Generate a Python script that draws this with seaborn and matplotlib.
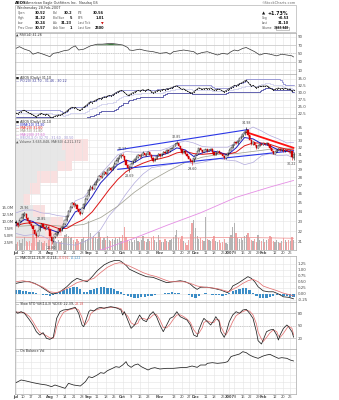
import numpy as np
import matplotlib
matplotlib.use("Agg")
import matplotlib.pyplot as plt
from matplotlib.patches import Rectangle
from matplotlib.ticker import NullLocator
import seaborn as sns

# ---------------------------------------------------------------- data
# daily bars, trading days 3-Jul-2006 .. 28-Feb-2007 (index 0..164)
OPEN = [22.95, 22.80, 22.65, 23.05, 23.40, 23.70, 23.80, 23.35, 23.00, 22.75,
        22.50, 22.15, 21.80, 21.60, 22.10, 22.50, 22.70, 22.45, 22.25, 22.40,
        22.20, 21.50, 21.10, 21.45, 21.70, 21.90, 22.20, 22.05, 22.45, 22.70,
        23.10, 23.60, 24.10, 24.50, 24.95, 24.70, 24.80, 24.30, 23.95, 23.85,
        24.40, 24.90, 25.40, 25.85, 26.50, 26.85, 26.60, 27.10, 27.45, 27.70,
        28.10, 28.00, 28.35, 28.60, 28.45, 28.90, 29.15, 28.95, 29.35, 29.70,
        30.10, 30.45, 30.70, 30.90, 30.75, 30.20, 29.60, 29.15, 29.30, 29.75,
        30.10, 30.35, 30.65, 30.90, 30.70, 30.95, 31.20, 30.85, 31.05, 31.30,
        30.95, 30.50, 30.15, 30.40, 30.75, 31.00, 30.80, 31.10, 31.35, 31.20,
        31.55, 31.40, 31.75, 31.90, 32.20, 32.45, 32.60, 32.10, 31.70, 31.25,
        31.50, 31.10, 30.75, 30.40, 30.10, 29.95, 30.45, 30.95, 31.40, 31.85,
        31.60, 31.35, 31.55, 31.70, 31.45, 31.60, 31.80, 31.30, 30.95, 31.20,
        31.40, 31.25, 31.10, 30.70, 30.45, 30.85, 31.20, 31.60, 31.95, 32.30,
        32.70, 32.55, 32.95, 33.30, 33.55, 33.90, 34.30, 34.60, 33.80, 33.10,
        32.40, 32.75, 32.30, 31.90, 32.20, 32.50, 32.35, 32.55, 32.40, 32.60,
        32.30, 31.85, 31.40, 31.10, 31.35, 31.60, 31.80, 31.55, 31.70, 31.40,
        31.65, 31.50, 31.30, 31.45, 30.52]
HIGH = [23.10, 22.90, 23.20, 23.45, 23.85, 23.96, 23.90, 23.50, 23.15, 22.85,
        22.60, 22.25, 21.90, 22.15, 22.60, 22.85, 22.75, 22.55, 22.60, 22.50,
        22.25, 21.60, 21.50, 21.85, 22.00, 22.30, 22.35, 22.55, 22.80, 23.20,
        23.70, 24.20, 24.65, 25.10, 25.05, 25.00, 24.90, 24.40, 24.05, 24.50,
        25.00, 25.50, 25.90, 26.70, 27.00, 26.95, 27.25, 27.60, 27.90, 28.30,
        28.25, 28.50, 28.80, 28.70, 29.10, 29.35, 29.25, 29.60, 29.90, 30.30,
        30.60, 30.85, 31.05, 31.17, 30.80, 30.25, 29.70, 29.40, 29.85, 30.20,
        30.45, 30.80, 31.05, 31.00, 31.10, 31.40, 31.25, 31.20, 31.45, 31.35,
        31.00, 30.60, 30.55, 30.85, 31.15, 31.05, 31.25, 31.50, 31.40, 31.70,
        31.60, 31.90, 32.05, 32.35, 32.60, 32.85, 32.65, 32.15, 31.80, 31.65,
        31.55, 31.15, 30.80, 30.50, 30.25, 30.55, 31.05, 31.50, 31.95, 31.90,
        31.65, 31.65, 31.80, 31.75, 31.70, 31.90, 31.85, 31.35, 31.30, 31.50,
        31.45, 31.30, 31.15, 30.75, 30.95, 31.30, 31.70, 32.05, 32.40, 32.80,
        32.75, 33.05, 33.40, 33.65, 34.00, 34.45, 34.98, 34.65, 33.85, 33.15,
        32.90, 32.80, 32.35, 32.30, 32.60, 32.55, 32.65, 32.60, 32.70, 32.65,
        32.35, 31.90, 31.45, 31.45, 31.70, 31.90, 31.85, 31.80, 31.75, 31.75,
        31.70, 31.55, 31.55, 31.50, 31.32]
LOW = [22.70, 22.45, 22.60, 22.95, 23.30, 23.55, 23.30, 22.95, 22.60, 22.40,
       22.10, 21.70, 21.40, 21.55, 22.00, 22.40, 22.30, 22.15, 22.20, 22.15,
       21.45, 20.80, 21.00, 21.35, 21.55, 21.80, 21.95, 22.00, 22.35, 22.60,
       23.05, 23.50, 24.00, 24.40, 24.55, 24.60, 24.20, 23.80, 23.65, 23.80,
       24.35, 24.85, 25.30, 25.80, 26.40, 26.45, 26.55, 27.00, 27.35, 27.65,
       27.85, 27.95, 28.30, 28.30, 28.40, 28.85, 28.80, 28.90, 29.30, 29.65,
       30.00, 30.35, 30.55, 30.60, 30.10, 29.50, 29.00, 28.69, 29.20, 29.70,
       30.00, 30.25, 30.55, 30.55, 30.65, 30.90, 30.75, 30.80, 31.00, 30.85,
       30.40, 29.95, 30.10, 30.35, 30.70, 30.65, 30.75, 31.05, 31.05, 31.15,
       31.25, 31.35, 31.70, 31.85, 32.15, 32.40, 32.00, 31.60, 31.10, 31.20,
       31.00, 30.65, 30.30, 30.00, 29.60, 29.90, 30.40, 30.90, 31.35, 31.50,
       31.25, 31.30, 31.50, 31.35, 31.40, 31.55, 31.20, 30.85, 30.90, 31.15,
       31.15, 31.00, 30.60, 30.30, 30.40, 30.80, 31.15, 31.55, 31.90, 32.25,
       32.40, 32.50, 32.90, 33.25, 33.50, 33.85, 34.20, 33.70, 33.00, 32.30,
       32.35, 32.20, 31.80, 31.85, 32.15, 32.25, 32.30, 32.30, 32.35, 32.20,
       31.75, 31.30, 31.00, 31.05, 31.30, 31.55, 31.45, 31.50, 31.30, 31.35,
       31.40, 31.20, 31.25, 30.22, 30.24]
CLOSE = [22.85, 22.60, 23.10, 23.35, 23.75, 23.85, 23.40, 23.05, 22.70, 22.55,
         22.20, 21.80, 21.55, 22.05, 22.50, 22.70, 22.40, 22.25, 22.45, 22.30,
         21.55, 21.05, 21.40, 21.75, 21.90, 22.20, 22.05, 22.45, 22.70, 23.10,
         23.60, 24.10, 24.55, 24.95, 24.70, 24.85, 24.30, 23.95, 23.80, 24.40,
         24.90, 25.40, 25.80, 26.50, 26.85, 26.60, 27.10, 27.45, 27.70, 28.10,
         28.00, 28.35, 28.60, 28.45, 28.90, 29.15, 28.95, 29.35, 29.70, 30.10,
         30.45, 30.70, 30.90, 30.75, 30.20, 29.60, 29.15, 29.30, 29.75, 30.10,
         30.35, 30.65, 30.90, 30.70, 30.95, 31.20, 30.85, 31.05, 31.30, 30.95,
         30.50, 30.15, 30.40, 30.75, 31.00, 30.80, 31.10, 31.35, 31.20, 31.55,
         31.40, 31.75, 31.90, 32.20, 32.45, 32.60, 32.10, 31.70, 31.25, 31.50,
         31.10, 30.75, 30.40, 30.10, 29.95, 30.45, 30.95, 31.40, 31.85, 31.60,
         31.35, 31.55, 31.70, 31.45, 31.60, 31.80, 31.30, 30.95, 31.20, 31.40,
         31.25, 31.10, 30.70, 30.45, 30.85, 31.20, 31.60, 31.95, 32.30, 32.70,
         32.55, 32.95, 33.30, 33.55, 33.90, 34.30, 34.60, 33.80, 33.10, 32.40,
         32.75, 32.30, 31.90, 32.20, 32.50, 32.35, 32.55, 32.40, 32.60, 32.30,
         31.85, 31.40, 31.10, 31.35, 31.60, 31.80, 31.55, 31.70, 31.40, 31.65,
         31.50, 31.30, 31.45, 30.57, 31.10]
VOLUME = [2.1, 2.8, 3.4, 2.6, 3.9, 4.6, 3.1, 2.7, 3.3, 2.5,
          7.0, 4.2, 3.8, 2.9, 3.6, 3.0, 2.4, 3.2, 2.6, 3.5,
          8.9, 6.2, 4.1, 3.3, 2.9, 3.6, 2.8, 3.1, 4.4, 5.2,
          5.6, 4.9, 4.2, 4.7, 3.5, 2.9, 3.8, 3.2, 2.7, 3.9,
          4.5, 3.6, 4.1,
          10.2, 6.1, 4.3, 5.0, 4.6, 3.9, 6.4, 4.8, 3.7, 4.2,
          3.4, 4.9, 3.6, 3.1, 4.0, 3.5, 4.4, 3.8, 4.7, 3.3,
          5.2, 8.3, 4.6, 3.7, 3.2, 3.9, 2.8, 3.4, 4.3, 3.1,
          2.7, 3.6, 4.9, 3.3, 2.9, 3.8, 3.1, 4.2, 5.0, 3.4,
          2.8, 5.4,
          3.6, 3.0, 2.7, 3.9, 3.3, 2.8, 3.5, 4.1, 4.6, 5.3,
          7.0, 4.4, 3.8, 4.9, 3.2, 2.6, 1.8, 3.7, 5.8, 9.6, 10.7,
          7.8, 4.9, 4.1, 4.3, 3.6, 3.2, 11.9, 3.8, 3.4, 3.1,
          4.0, 5.1, 3.3, 2.8, 3.5, 2.6, 3.0, 3.9, 2.4, 2.2,
          4.7, 5.5, 8.2, 9.6, 6.1, 4.2, 3.8, 4.4, 3.6, 4.9,
          5.2, 6.0, 4.3, 3.7, 3.2, 3.9, 2.9, 5.4, 3.6, 3.1,
          3.8, 2.9, 3.4, 4.1, 5.0, 4.6, 3.2, 2.8, 3.5, 3.0,
          2.6, 3.1, 4.3, 3.4, 2.9, 3.7, 3.2, 4.7, 3.67]

# date axis
TICK_IDX = [0, 4, 9, 14, 20, 24, 29, 34, 39, 43, 48, 53, 58, 63, 68, 73, 78,
            85, 93, 98, 102, 106, 112, 117, 122, 126, 129, 134, 138, 143,
            146, 153, 158, 162]
TICK_LBL = ["Jul", "10", "17", "24", "Aug", "7", "14", "21", "28", "Sep", "11",
            "18", "25", "Oct", "9", "16", "23", "Nov", "13", "20", "27", "Dec",
            "11", "18", "26", "2007", "8", "16", "22", "29", "Feb", "12", "20",
            "26"]
MONTHS = {"Jul", "Aug", "Sep", "Oct", "Nov", "Dec", "2007", "Feb"}

# price overlays
MA_IDX = [0, 5, 10, 15, 20, 25, 30, 35, 40, 45, 50, 55, 60, 65, 70, 75, 80, 85,
          90, 95, 100, 105, 110, 115, 120, 125, 130, 135, 140, 145, 150, 155,
          160, 164]
EMA10 = [22.6, 23.2, 23.0, 22.4, 22.2, 21.9, 22.6, 24.0, 24.4, 25.7, 27.3, 28.4,
         29.6, 30.2, 29.9, 30.6, 30.8, 30.8, 31.2, 31.9, 31.6, 30.7, 31.2, 31.5,
         31.3, 30.9, 31.9, 33.4, 33.2, 32.5, 32.2, 31.6, 31.5, 31.3]
MA20 = [22.6, 22.8, 22.9, 22.8, 22.6, 22.3, 22.3, 22.8, 23.2, 24.0, 25.2, 26.5,
        27.7, 28.7, 29.3, 29.8, 30.2, 30.4, 30.7, 31.2, 31.4, 31.1, 31.0, 31.1,
        31.2, 31.0, 31.3, 32.2, 32.6, 32.6, 32.4, 32.0, 31.7, 31.6]
BB_UP = [23.9, 24.2, 24.2, 23.9, 23.8, 23.6, 23.5, 25.2, 25.6, 26.8, 28.4, 29.6,
         30.9, 31.4, 31.3, 31.3, 31.5, 31.5, 31.9, 32.6, 32.9, 32.6, 32.1, 32.0,
         32.0, 32.0, 32.6, 34.3, 35.0, 34.4, 33.7, 33.2, 32.6, 32.7]
BB_DN = [21.8, 21.6, 21.7, 21.6, 21.2, 20.9, 20.8, 20.7, 21.0, 21.4, 22.2, 23.6,
         24.6, 26.0, 27.3, 28.4, 29.2, 29.4, 29.6, 29.8, 30.0, 29.7, 29.9, 30.2,
         30.4, 30.2, 30.1, 29.6, 29.9, 30.8, 31.1, 30.8, 30.9, 30.5]
MA50_IDX = [0, 10, 20, 30, 40, 50, 60, 70, 80, 90, 100, 110, 120, 130, 140, 150,
            160, 164]
MA50 = [22.5, 22.6, 22.6, 22.5, 22.7, 23.4, 24.6, 26.2, 27.6, 28.8, 29.9, 30.6,
        31.0, 31.1, 31.4, 31.7, 31.8, 31.8]
MA200_IDX = [0, 30, 51, 69, 89, 109, 130, 150, 164]
MA200 = [19.0, 19.7, 20.3, 21.3, 22.6, 23.9, 25.6, 26.8, 27.6]
VOLMA_IDX = [0, 20, 45, 70, 100, 130, 164]
VOLMA = [4.6, 4.4, 4.5, 4.4, 4.3, 4.5, 4.2]

# trend lines: (start index, start price, end index, end price)
TREND_UP = (60, 31.6, 137, 34.6)
TREND_LOW = (60, 29.0, 164, 31.5)
TREND_RED = (136, 34.2, 164, 31.9)

# labelled highs / lows: (index, price, above?)
MARKS = [(5, 23.96, True), (15, 22.85, True), (21, 20.80, False),
         (63, 31.17, True), (67, 28.69, False), (95, 32.85, True),
         (104, 29.60, False), (136, 34.98, True), (163, 30.22, False)]

# volume by price zones (price edges, up / down volume in millions)
VBP_LO = [20.6, 21.6, 22.5, 23.5, 24.7, 26.0, 27.3, 28.8, 30.1, 31.6]
VBP_HI = [21.6, 22.5, 23.5, 24.7, 26.0, 27.3, 28.8, 30.1, 31.6, 33.2]
VBP_UP = [36, 60, 70, 36, 16, 30, 44, 84, 100, 94]
VBP_DN = [34, 34, 26, 24, 14, 20, 42, 30, 46, 52]

# price channel PC(20) change points
PC_HI_IDX = [0, 25, 26, 27, 28, 29, 30, 31, 32, 33, 41, 42, 43, 44, 46, 47, 48,
             49, 51, 52, 54, 55, 57, 58, 59, 60, 61, 62, 63, 83, 87, 89, 91, 92,
             93, 94, 95, 115, 116, 117, 127, 128, 129, 131, 132, 133, 134, 135,
             136, 156, 157, 158, 159, 160, 161]
PC_HI = [23.96, 23.90, 23.50, 23.15, 22.85, 23.20, 23.70, 24.20, 24.65, 25.10,
         25.50, 25.90, 26.70, 27.00, 27.25, 27.60, 27.90, 28.30, 28.50, 28.80,
         29.10, 29.35, 29.60, 29.90, 30.30, 30.60, 30.85, 31.05, 31.17, 31.45,
         31.50, 31.70, 31.90, 32.05, 32.35, 32.60, 32.85, 32.65, 32.15, 31.95,
         32.05, 32.40, 32.80, 33.05, 33.40, 33.65, 34.00, 34.45, 34.98, 34.65,
         33.85, 33.15, 32.90, 32.80, 32.70]
PC_LO_IDX = [0, 21, 41, 42, 43, 44, 45, 46, 47, 48, 49, 50, 51, 58, 59, 60, 61,
             62, 63, 64, 65, 66, 67, 68, 69, 70, 71, 73, 74, 87, 88, 89, 101,
             102, 103, 104, 124, 125, 143, 144, 145, 146, 147, 150, 151, 152, 163]
PC_LO = [21.40, 20.80, 21.00, 21.35, 21.55, 21.80, 21.95, 22.00, 22.35, 22.60,
         23.05, 23.50, 23.65, 23.80, 24.35, 24.85, 25.30, 25.80, 26.40, 26.45,
         26.55, 27.00, 27.35, 27.65, 27.85, 27.95, 28.30, 28.40, 28.69, 29.20,
         29.70, 29.95, 30.10, 30.30, 30.00, 29.60, 29.90, 30.30, 30.40, 30.80,
         31.15, 31.55, 31.80, 31.75, 31.30, 31.00, 30.22]

# RSI(14)
RSI_IDX = [0, 2, 5, 8, 10, 13, 16, 20, 22, 25, 28, 31, 33, 35, 37, 40, 44, 48,
           51, 56, 60, 63, 66, 67, 69, 73, 77, 81, 85, 89, 91, 93, 96, 99, 102,
           105, 107, 110, 113, 116, 119, 122, 125, 127, 129, 131, 134, 136, 138,
           141, 144, 147, 150, 154, 157, 160, 163, 164]
RSI = [62, 66, 60, 56, 48, 52, 48, 42, 50, 52, 56, 58, 64, 68, 58, 60, 68, 72,
       72, 74, 72, 70, 64, 58, 57, 60, 56, 54, 50, 52, 48, 54, 56, 58, 56, 54,
       48, 52, 54, 50, 46, 50, 48, 54, 58, 56, 62, 64, 60, 54, 46, 50, 48, 44,
       48, 46, 44, 41.26]

# MACD(12,26,9)
MACD_IDX = [0, 2, 5, 8, 11, 14, 17, 20, 22, 26, 30, 33, 36, 40, 42, 45, 48, 52,
            55, 58, 61, 62, 65, 67, 70, 73, 77, 81, 85, 89, 93, 97, 100, 103,
            105, 107, 109, 113, 117, 121, 125, 127, 128, 131, 134, 137, 139,
            141, 143, 146, 149, 152, 155, 158, 161, 164]
MACD = [0.43, 0.46, 0.50, 0.50, 0.43, 0.32, 0.18, 0.04, -0.01, 0.08, 0.29, 0.50,
        0.64, 0.54, 0.50, 0.71, 0.96, 1.20, 1.31, 1.38, 1.38, 1.35, 1.18, 1.02,
        0.92, 0.82, 0.71, 0.68, 0.57, 0.46, 0.50, 0.54, 0.50, 0.40, 0.27, 0.18,
        0.27, 0.27, 0.22, 0.15, 0.04, 0.18, 0.32, 0.43, 0.57, 0.71, 0.64, 0.50,
        0.29, 0.12, 0.08, 0.08, -0.01, -0.13, -0.15, -0.214]
SIG_IDX = [0, 4, 8, 12, 16, 20, 24, 28, 32, 36, 40, 43, 46, 50, 54, 58, 61, 63,
           67, 71, 75, 79, 83, 87, 91, 95, 99, 103, 107, 111, 115, 119, 123,
           126, 128, 131, 134, 137, 140, 143, 146, 150, 154, 158, 162, 164]
SIG = [0.50, 0.54, 0.49, 0.39, 0.27, 0.08, 0.04, 0.15, 0.29, 0.46, 0.54, 0.57,
       0.64, 0.88, 1.10, 1.24, 1.29, 1.27, 1.15, 1.02, 0.88, 0.78, 0.71, 0.60,
       0.50, 0.50, 0.50, 0.43, 0.32, 0.27, 0.25, 0.21, 0.13, 0.08, 0.18, 0.29,
       0.43, 0.54, 0.60, 0.50, 0.32, 0.22, 0.13, 0.02, -0.05, -0.092]
HIST_IDX = list(range(0, 165, 2))
HIST = [0.14, 0.15, 0.13, 0.10, 0.08, 0.06, 0.03, 0.00, -0.04, -0.07,
        -0.08, -0.05, 0.02, 0.08, 0.14, 0.20, 0.25, 0.28, 0.27, 0.18,
        0.05, 0.06, 0.14, 0.20, 0.24, 0.26, 0.27, 0.25, 0.22, 0.19,
        0.12, 0.06, -0.04, -0.10, -0.14, -0.16, -0.18, -0.15, -0.12, -0.10,
        -0.08, -0.06, -0.03, -0.01, 0.02, 0.04, 0.05, 0.04, 0.03, 0.00,
        -0.03, -0.06, -0.12, -0.16, -0.08, -0.02, 0.01, -0.02, -0.04, -0.06,
        -0.07, -0.08, -0.05, 0.03, 0.10, 0.16, 0.21, 0.24, 0.22, 0.15,
        0.02, -0.10, -0.18, -0.20, -0.16, -0.12, -0.08, -0.04, -0.07, -0.10,
        -0.10, -0.12, -0.122]

# Slow stochastic
STO_IDX = [0, 1, 3, 5, 8, 10, 12, 14, 16, 18, 20, 22, 23, 24, 26, 28, 31, 33,
           35, 37, 39, 40, 41, 43, 44, 46, 48, 50, 52, 54, 56, 58, 60, 62, 63,
           64, 66, 68, 70, 72, 73, 75, 77, 79, 81, 83, 85, 87, 89, 91, 93, 95,
           97, 99, 101, 103, 105, 107, 108, 110, 111, 113, 115, 117, 118, 120,
           121, 123, 124, 126, 128, 130, 132, 134, 136, 138, 140, 142, 143, 145,
           146, 148, 150, 152, 154, 155, 156, 158, 160, 161, 163, 164]
STO_K = [83.8, 79.9, 83.8, 79.9, 63.8, 51.8, 35.8, 27.8, 33.4, 19.8,
         17.4, 22.2, 43.8, 67.8, 83.8, 87.8, 89.4, 91.8, 94.2, 79.9,
         51.8, 47.8, 59.8, 83.8, 87.8, 85.4, 91.8, 94.2, 91.8, 94.2,
         95.8, 94.2, 91.8, 87.8, 75.8, 83.8, 63.8, 43.8, 51.8, 67.8,
         75.8, 63.8, 59.8, 75.8, 83.8, 71.8, 51.8, 35.8, 51.8, 67.8,
         71.8, 83.8, 71.8, 67.8, 63.8, 51.8, 27.8, 23.8, 39.8, 59.8,
         67.8, 59.8, 51.8, 63.8, 71.8, 59.8, 35.8, 22.2, 31.8, 59.8,
         75.8, 83.8, 79.9, 87.8, 89.4, 79.9, 67.8, 35.8, 14.2, 6.2,
         15.8, 35.8, 39.8, 41.4, 27.8, 15.8, 27.8, 43.8, 51.8, 47.8,
         35.8, 22.39]
STO_D = [82, 83, 82, 81, 72, 60, 46, 34, 30, 26,
         21, 20, 30, 48, 68, 82, 88, 90, 92, 88,
         70, 57, 53, 65, 78, 86, 89, 91, 93, 93,
         94, 94, 93, 91, 84, 81, 73, 57, 52, 56,
         66, 68, 65, 68, 76, 77, 64, 46, 45, 54,
         66, 76, 76, 72, 66, 58, 40, 30, 32, 45,
         58, 62, 58, 58, 65, 64, 48, 32, 28, 42,
         60, 74, 80, 84, 87, 85, 76, 55, 35, 18,
         12, 22, 33, 40, 36, 26, 22, 32, 44, 49,
         44, 28.18]

# On Balance Volume (millions)
OBV_IDX = [0, 3, 6, 10, 14, 18, 21, 23, 26, 29, 31, 34, 38, 41, 43, 45, 48, 50,
           52, 54, 57, 59, 61, 63, 65, 66, 68, 70, 72, 74, 76, 78, 80, 82, 85,
           89, 93, 97, 101, 104, 107, 109, 112, 113, 116, 119, 123, 125, 127,
           128, 130, 132, 134, 136, 138, 140, 143, 146, 148, 150, 152, 155,
           157, 160, 162, 164]
OBV = [18.5, 22.5, 21.0, 18.5, 16.5, 15.0, 12.5, 15.0, 12.5, 10.0,
       17.5, 15.0, 13.5, 20.0, 27.5, 26.0, 30.0, 33.5, 32.5, 36.5,
       40.0, 42.5, 41.5, 45.0, 50.0, 45.0, 41.5, 45.0, 46.5, 42.5,
       40.0, 37.5, 40.0, 41.0, 39.0, 40.0, 40.0, 41.0, 41.5, 43.5,
       41.5, 45.0, 45.0, 47.5, 48.5, 47.5, 48.5, 50.0, 57.5, 58.5,
       60.0, 61.5, 65.0, 63.5, 60.0, 57.5, 55.0, 58.5, 60.0, 61.0,
       58.5, 55.0, 56.0, 55.0, 52.5, 51.0]

# quote box
QUOTE_COL1 = [("Open", "30.52"), ("High", "31.32"), ("Low", "30.24"), ("Prev Close", "30.57")]
QUOTE_COL2 = [("Bid", "30.2"), ("Bid Size", "5"), ("Ask", "31.23"), ("Ask Size", "1")]
QUOTE_COL3 = [("P/E", "30.56"), ("EPS", "1.01"), ("Last Tick", "\u25bc"), ("Last Size", "2500")]
QUOTE_COL4 = [("\u25b2", "+1.73%"), ("Chg", "+0.53"), ("Last", "31.10"), ("Volume", "3,665,848")]

# ---------------------------------------------------------------- figure
sns.set_theme(style="white")
plt.rcParams["font.family"] = ["DejaVu Sans"]
plt.rcParams["axes.linewidth"] = 0.5

W, H = 339, 400
fig = plt.figure(figsize=(W / 100, H / 100), dpi=100)


def box(x0, y0, x1, y1):
    return [x0 / W, 1 - y1 / H, (x1 - x0) / W, (y1 - y0) / H]


X0, X1 = 15, 296
XLIM = (-0.6, 165.4)
GRID = "#e4e4e4"
EDGE = "#a8a8a8"
TICKC = "#4a4a4a"
FS_TICK = 2.9
FS_DATE = 2.6
FS_LAB = 2.35
days = np.arange(len(CLOSE))


def frame(ax, right_labels=True):
    ax.set_xlim(*XLIM)
    ax.set_xticks(TICK_IDX)
    ax.tick_params(axis="x", length=0, labelbottom=False)
    ax.yaxis.set_minor_locator(NullLocator())
    ax.yaxis.tick_right()
    ax.tick_params(axis="y", which="both", length=0, labelsize=FS_TICK,
                   colors=TICKC, pad=1.2, labelright=right_labels)
    ax.grid(True, color=GRID, lw=0.4)
    ax.set_axisbelow(True)
    for s in ax.spines.values():
        s.set_color(EDGE)
        s.set_linewidth(0.5)
    ax.set_xlabel("")
    ax.set_ylabel("")


def date_axis(ax):
    ax.set_xticks(TICK_IDX, labels=TICK_LBL)
    ax.tick_params(axis="x", labelbottom=True, labelsize=FS_DATE, pad=0.8,
                   colors=TICKC)
    for t, s in zip(ax.get_xticklabels(), TICK_LBL):
        if s in MONTHS:
            t.set_fontweight("bold")


def line(ax, x, y, color, lw=0.5, **kw):
    sns.lineplot(x=x, y=y, ax=ax, color=color, lw=lw, errorbar=None,
                 legend=False, **kw)


# ---- RSI
ax_rsi = fig.add_axes(box(X0, 32.5, X1, 74.2))
ri, rv = np.array(RSI_IDX), np.array(RSI, float)
ax_rsi.fill_between(ri, rv, 70, where=rv >= 70, interpolate=True,
                    color="#3f7b3f", lw=0)
line(ax_rsi, RSI_IDX, RSI, "#333333", 0.5)
ax_rsi.set_ylim(0, 100)
ax_rsi.set_yticks([10, 30, 50, 70, 90])
frame(ax_rsi)
for lvl in (70, 30):
    ax_rsi.axhline(lvl, color="#c4c4c4", lw=0.45, zorder=1)
ax_rsi.axhline(50, color="#b0b0b0", lw=0.4, ls=(0, (2, 2)), zorder=1)

# ---- price channel panel
ax_pc = fig.add_axes(box(X0, 74.2, X1, 118))
pos_hi = np.searchsorted(PC_HI_IDX, days, side="right") - 1
pos_lo = np.searchsorted(PC_LO_IDX, days, side="right") - 1
pc_hi_d = np.asarray(PC_HI)[pos_hi]
pc_lo_d = np.asarray(PC_LO)[pos_lo]
line(ax_pc, days, pc_hi_d, "#8585cf", 0.55, drawstyle="steps-post")
line(ax_pc, days, pc_lo_d, "#3b3b9c", 0.55, drawstyle="steps-post")
line(ax_pc, days, (pc_hi_d + pc_lo_d) / 2, "#c3c3ea", 0.45, drawstyle="steps-post")
line(ax_pc, days, CLOSE, "#222222", 0.45, marker="o", markersize=0.8,
     markeredgewidth=0)
ax_pc.set_ylim(21.07, 36.71)
ax_pc.set_yticks([22.5, 25, 27.5, 30, 32.5, 35],
                 labels=["22.5", "25.0", "27.5", "30.0", "32.5", "35.0"])
frame(ax_pc)

# ---- main price panel (volume-by-price, volume, candles)
rect_main = box(X0, 118, X1, 250)
PLO, PHI = 20.26, 36.43
PRICE_TICKS = list(range(21, 36))

ax_vbp = fig.add_axes(rect_main)
ax_vbp.set_yscale("log")
ax_vbp.barh(VBP_LO, VBP_UP, height=np.subtract(VBP_HI, VBP_LO), align="edge",
            color="#e7e7e7", lw=0)
ax_vbp.barh(VBP_LO, VBP_DN, left=VBP_UP, height=np.subtract(VBP_HI, VBP_LO),
            align="edge", color="#f9e0e0", lw=0)
ax_vbp.set_xlim(0, 562)
ax_vbp.set_ylim(PLO, PHI)
ax_vbp.set_yticks(PRICE_TICKS, labels=[str(p) for p in PRICE_TICKS])
ax_vbp.yaxis.set_minor_locator(NullLocator())
ax_vbp.set_xticks([])
ax_vbp.tick_params(axis="y", which="both", length=0, labelleft=False,
                   labelright=False)
ax_vbp.grid(True, axis="y", color=GRID, lw=0.4)
ax_vbp.set_axisbelow(True)
for s in ax_vbp.spines.values():
    s.set_visible(False)

ax_vol = fig.add_axes(rect_main)
ax_vol.patch.set_visible(False)
cl = np.array(CLOSE)
prev = np.r_[cl[0], cl[:-1]]
down = cl < prev
ax_vol.bar(days, VOLUME, width=0.72,
           color=np.where(down, "#f2a5a5", "#b3b3b3"), lw=0)
line(ax_vol, VOLMA_IDX, VOLMA, "#ee8c8c", 0.5)
ax_vol.set_xlim(*XLIM)
ax_vol.set_ylim(0, 47.1)
ax_vol.set_xticks(TICK_IDX)
ax_vol.set_yticks([2.5, 5, 7.5, 10, 12.5, 15],
                  labels=["2.5M", "5.0M", "7.5M", "10.0M", "12.5M", "15.0M"])
ax_vol.tick_params(axis="x", length=0, labelbottom=False)
ax_vol.tick_params(axis="y", length=0, labelsize=FS_TICK, colors=TICKC, pad=1.0)
ax_vol.grid(True, axis="x", color=GRID, lw=0.4)
ax_vol.set_axisbelow(True)
ax_vol.set_xlabel("")
ax_vol.set_ylabel("")
for s in ax_vol.spines.values():
    s.set_visible(False)

ax_main = fig.add_axes(rect_main)
ax_main.patch.set_visible(False)
ax_main.set_yscale("log")
line(ax_main, MA200_IDX, MA200, "#e58ee5", 0.6)
line(ax_main, MA_IDX, BB_UP, "#b2aadd", 0.5)
line(ax_main, MA_IDX, BB_DN, "#b2aadd", 0.5)
line(ax_main, MA50_IDX, MA50, "#a3a395", 0.55)
line(ax_main, MA_IDX, MA20, "#dd1515", 0.7)
line(ax_main, MA_IDX, EMA10, "#1d1dbf", 0.7)

op, hi, lo = np.array(OPEN), np.array(HIGH), np.array(LOW)
edge = np.where(down, "#d40000", "#111111")
face = np.where(cl < op, edge, "#ffffff")
ax_main.vlines(days, lo, hi, colors=edge, lw=0.4, zorder=3)
ax_main.bar(days, np.abs(cl - op), bottom=np.minimum(op, cl), width=0.75,
            color=face, edgecolor=edge, lw=0.3, zorder=4)

for (a, pa, b, pb), col, lw in ((TREND_UP, "#2a36e6", 0.8),
                                (TREND_LOW, "#2a36e6", 0.8),
                                (TREND_RED, "#ff1010", 1.3)):
    line(ax_main, [a, b], [pa, pb], col, lw)

for i, p, above in MARKS:
    ax_main.annotate(f"{p:.2f}", (i, p), xytext=(0, 1.6 if above else -1.6),
                     textcoords="offset points", ha="center",
                     va="bottom" if above else "top", fontsize=2.3,
                     color="#444444", zorder=6)

ax_main.set_ylim(PLO, PHI)
ax_main.set_yticks(PRICE_TICKS, labels=[str(p) for p in PRICE_TICKS])
frame(ax_main)
ax_main.grid(False)
date_axis(ax_main)
ax_vbp.set_zorder(1)
ax_vol.set_zorder(2)
ax_main.set_zorder(3)

# ---- MACD
ax_macd = fig.add_axes(box(X0, 256, X1, 302))
ax_macd.bar(HIST_IDX, HIST, width=1.35, color="#3c8dc6", lw=0)
line(ax_macd, MACD_IDX, MACD, "#222222", 0.55)
line(ax_macd, SIG_IDX, SIG, "#e37474", 0.55)
ax_macd.set_ylim(-0.346, 1.571)
ax_macd.set_yticks([-0.25, 0, 0.25, 0.5, 0.75, 1.0, 1.25],
                   labels=["-0.25", "0.00", "0.25", "0.50", "0.75", "1.00", "1.25"])
frame(ax_macd)

# ---- Slow stochastic
ax_sto = fig.add_axes(box(X0, 302, X1, 348.5))
line(ax_sto, STO_IDX, STO_D, "#e37474", 0.55)
line(ax_sto, STO_IDX, STO_K, "#222222", 0.55)
ax_sto.set_ylim(-4.56, 107)
ax_sto.set_yticks([20, 50, 80])
frame(ax_sto)
ax_sto.axhline(80, color="#bdbdbd", lw=0.45, zorder=1)
ax_sto.axhline(20, color="#bdbdbd", lw=0.45, zorder=1)
ax_sto.axhline(50, color="#b0b0b0", lw=0.4, ls=(0, (2, 2)), zorder=1)

# ---- On Balance Volume
ax_obv = fig.add_axes(box(X0, 348.5, X1, 394))
line(ax_obv, OBV_IDX, OBV, "#222222", 0.55)
ax_obv.set_ylim(1.5, 69.75)
ax_obv.set_yticks([10, 20, 30, 40, 50, 60])
frame(ax_obv, right_labels=False)
date_axis(ax_obv)

# ---------------------------------------------------------------- text layer
ov = fig.add_axes([0, 0, 1, 1])
ov.set_xlim(0, W)
ov.set_ylim(H, 0)
ov.axis("off")
ov.set_zorder(10)
renderer = fig.canvas.get_renderer()


def rich(x, y, parts, fs=FS_LAB):
    for s, col in parts:
        t = ov.text(x, y, s, color=col, fontsize=fs, va="center", ha="left")
        x += t.get_window_extent(renderer).width


# title and quote box
ov.text(15, 2.8, "AEOS", fontsize=2.8, fontweight="bold", color="#111111",
        va="center")
ov.text(26.5, 2.8, "American Eagle Outfitters Inc.  Nasdaq GS", fontsize=2.4,
        color="#333333", va="center")
ov.text(296, 2.8, "\u00a9StockCharts.com", fontsize=2.5, color="#666666",
        va="center", ha="right")
ov.add_patch(Rectangle((15, 5.2), 281, 26.8, fill=False, ec="#b5b5b5", lw=0.5))
ov.text(17, 8.3, "Wednesday 28-Feb-2007", fontsize=2.5, color="#333333",
        va="center")
rows_y = [13.3, 18.3, 23.3, 28.3]
for col, xl, xr in ((QUOTE_COL1, 18, 45.5), (QUOTE_COL2, 53, 72),
                    (QUOTE_COL3, 78, 104)):
    for (lab, val), y in zip(col, rows_y):
        ov.text(xl, y, lab, fontsize=2.1, color="#555555", va="center")
        ov.text(xr, y, val, fontsize=2.5, fontweight="bold", va="center",
                ha="right", color="#cc0000" if val == "\u25bc" else "#111111")
for i, ((lab, val), y) in enumerate(zip(QUOTE_COL4, rows_y)):
    ov.text(262, y, lab, fontsize=3.0 if i == 0 else 2.1,
            color="#111111" if i == 0 else "#555555", va="center")
    ov.text(288.5, y, val, fontsize=3.4 if i == 0 else (2.0 if i == 3 else 2.5),
            fontweight="bold", va="center", ha="right", color="#111111")
ov.add_patch(Rectangle((275.6, 26.5), 13.8, 3.6, fill=False, ec="#9a9a9a",
                       lw=0.4))

# panel legends
rich(15.5, 34.8, [("\u25b2 RSI(14) 41.26", "#333333")])
rich(15.5, 77.6, [("\u25a0 AEOS (Daily) 31.10", "#222222")])
rich(15.5, 80.9, [("\u2014 PC(20) 32.70 - 31.46 - 30.22", "#3b3b9c")])
legend_rows = [("\u25a0 AEOS (Daily) 31.10", "#222222"),
               ("\u2014 EMA(10) 31.30", "#1d1dbf"),
               ("\u2014 MA(20) 31.60", "#dd1515"),
               ("\u2014 MA(50) 31.80", "#8c8c7c"),
               ("\u2014 MA(200) 27.60", "#d66ad6"),
               ("\u2014 BB(20,2.0) 32.70 - 31.60 - 30.50", "#9a90d0"),
               ("\u25b2 Volume 3,665,848, MA(60) 4,211,372", "#555555")]
for k, (s, c) in enumerate(legend_rows):
    rich(15.5, 121.6 + 3.3 * k, [(s, c)])
rich(15.5, 258.3, [("\u2014 MACD(12,26,9) -0.214, ", "#222222"),
                   ("-0.092, ", "#e05555"), ("-0.122", "#3c8dc6")])
rich(15.5, 304.3, [("\u2014 Slow STO %K(14,3) %D(3) 22.39, ", "#222222"),
                   ("28.18", "#e05555")])
rich(15.5, 350.8, [("\u2014 On Balance Vol", "#333333")])

fig.savefig("out.png", dpi=100)
